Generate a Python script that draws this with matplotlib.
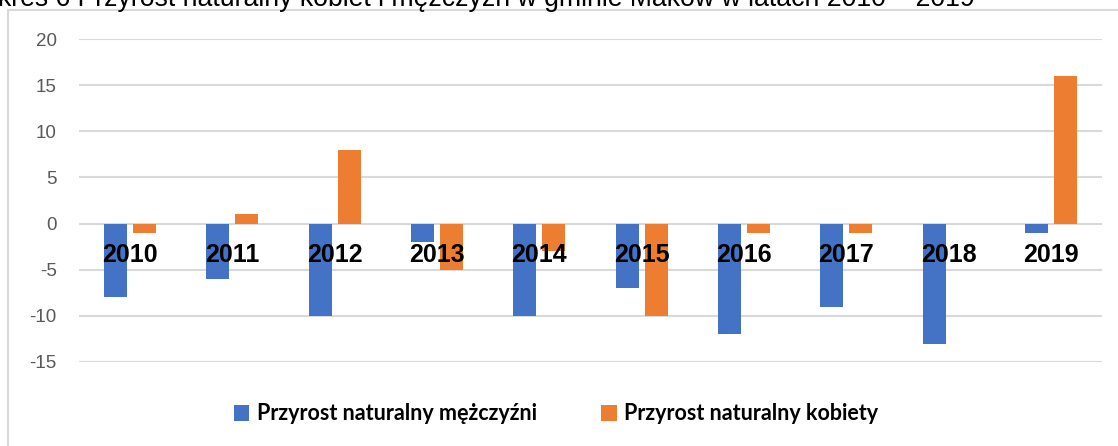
import numpy as np
import matplotlib
matplotlib.use("Agg")
import matplotlib.pyplot as plt
from matplotlib.patches import Rectangle

years = ["2010", "2011", "2012", "2013", "2014", "2015", "2016", "2017", "2018", "2019"]
men = [-8, -6, -10, -2, -10, -7, -12, -9, -13, -1]
women = [-1, 1, 8, -5, -3, -10, -1, -1, 0, 16]
yticks = [-15, -10, -5, 0, 5, 10, 15, 20]

title = "kres 6 Przyrost naturalny kobiet i mężczyzn w gminie Maków w latach 2010 – 2019"
label_men = "Przyrost naturalny mężczyźni"
label_women = "Przyrost naturalny kobiety"

W, H = 1118, 446
fig = plt.figure(figsize=(W / 100, H / 100), dpi=100)

# chart frame (cut off on right and bottom)
fig.patches.append(Rectangle((8 / W, -0.1), 1.2, 1 - 10 / H + 0.1,
                             transform=fig.transFigure, fill=False,
                             edgecolor="#D9D9D9", linewidth=1.5))

# title, cut at top of image like in the original
fig.text(-2 / W, 1 - 6 / H, title, fontsize=19.2, family="Liberation Sans",
         va="baseline", ha="left", color="black")

ax = fig.add_axes([79 / W, (H - 362) / H, (1102 - 79) / W, (362 - 39) / H])

x = np.arange(len(years))
bw = 0.225
off = 0.142
b1 = ax.bar(x - off, men, bw, color="#4472C4", zorder=2, label=label_men)
b2 = ax.bar(x + off, women, bw, color="#ED7D31", zorder=2, label=label_women)

ax.set_xlim(-0.5, len(years) - 0.5)
ax.set_ylim(-15, 20)
ax.set_yticks(yticks)
ax.set_yticklabels([str(v) for v in yticks], fontsize=13.5, color="#595959",
                   family="Liberation Sans")
ax.tick_params(axis="y", length=0, pad=16)
ax.set_xticks([])
ax.yaxis.grid(True, color="#D9D9D9", linewidth=1.5, zorder=0)
ax.set_axisbelow(True)
for s in ax.spines.values():
    s.set_visible(False)

# year labels sitting across the bars
for i, y in enumerate(years):
    ax.text(i, -3.4, y, ha="center", va="center", fontsize=18,
            fontweight="bold", family="Liberation Sans", color="black", zorder=3)

fig.legend(handles=[b1, b2], loc="center", bbox_to_anchor=(556 / W, 32 / H),
           ncol=2, frameon=False, handlelength=0.72, handleheight=0.72,
           handletextpad=0.35, columnspacing=3.0,
           prop={"family": "Lato", "weight": "bold", "size": 15.5})

fig.savefig("out.png", dpi=100)
